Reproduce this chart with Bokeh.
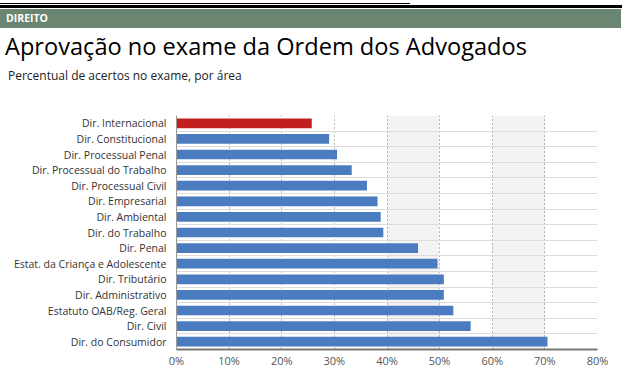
import numpy as np
from bokeh.plotting import figure
from bokeh.models import (Range1d, FixedTicker, BoxAnnotation, Div, ColumnDataSource,
                          CustomJSTickFormatter, PrintfTickFormatter)
from bokeh.layouts import column
from bokeh.embed import file_html
from bokeh.resources import INLINE

section = "DIREITO"
title = "Aprovação no exame da Ordem dos Advogados"
subtitle = "Percentual de acertos no exame, por área"

categories = [
    "Dir. Internacional", "Dir. Constitucional", "Dir. Processual Penal",
    "Dir. Processual do Trabalho", "Dir. Processual Civil", "Dir. Empresarial",
    "Dir. Ambiental", "Dir. do Trabalho", "Dir. Penal",
    "Estat. da Criança e Adolescente", "Dir. Tributário", "Dir. Administrativo",
    "Estatuto OAB/Reg. Geral", "Dir. Civil", "Dir. do Consumidor",
]
values = [25.7, 29.0, 30.5, 33.3, 36.2, 38.2, 38.8, 39.3, 45.9, 49.6, 50.8, 50.8, 52.6, 55.9, 70.5]
highlight = ["Dir. Internacional"]
x_ticks = [0, 10, 20, 30, 40, 50, 60, 70, 80]
shaded_bands = [(40, 50), (60, 70)]

BLUE = "#4a7cbf"
RED = "#c1201e"
FONT = "Open Sans"

n = len(categories)
pos = list(range(n))
colors = [RED if c in highlight else BLUE for c in categories]
src = ColumnDataSource(dict(pos=pos, val=values, color=colors, cat=categories))

header = Div(
    text=(
        '<div style="position:relative;width:625px;height:100px;overflow:hidden;">'
        '<div style="position:absolute;left:0;top:3px;width:410px;height:1px;background:#000;"></div>'
        '<div style="position:absolute;left:0;top:5px;width:622px;height:3px;background:#000;"></div>'
        '<div style="position:absolute;left:0;top:9px;width:621px;height:19px;background:#6a8570;"></div>'
        f'<div style="position:absolute;left:6px;top:10px;line-height:17px;font-family:\'{FONT}\';'
        f'font-weight:700;font-size:10.5px;color:#fff;">{section}</div>'
        f'<div style="position:absolute;left:5px;top:30px;line-height:32px;font-family:\'{FONT}\';'
        f'font-size:23.6px;color:#000;white-space:nowrap;">{title}</div>'
        f'<div style="position:absolute;left:8px;top:68px;line-height:16px;font-family:\'{FONT}\';'
        f'font-size:12px;color:#222;white-space:nowrap;">{subtitle}</div>'
        '</div>'
    ),
    width=625, height=100, margin=(0, 0, 0, 0),
)

p = figure(width=625, height=270, output_backend="svg", toolbar_location=None,
           x_range=Range1d(0, 80), y_range=Range1d(n - 0.5, -0.5),
           min_border_left=176, min_border_right=28, min_border_top=15, min_border_bottom=20)
p.outline_line_color = None
p.background_fill_color = "white"
p.border_fill_color = "white"

for a, b in shaded_bands:
    p.add_layout(BoxAnnotation(left=a, right=b, fill_color="#f3f3f3", fill_alpha=1,
                               line_alpha=0, level="image"))

p.hbar(y="pos", left=0, right="val", height=0.62, fill_color="color", line_color=None, source=src)

p.xaxis.ticker = FixedTicker(ticks=x_ticks)
p.xaxis.formatter = PrintfTickFormatter(format="%d%%")
p.xaxis.major_tick_line_color = None
p.xaxis.minor_tick_line_color = None
p.xaxis.major_tick_out = 0
p.xaxis.major_tick_in = 0
p.xaxis.minor_tick_out = 0
p.xaxis.axis_line_color = "#777"
p.xaxis.axis_line_width = 2
p.xaxis.major_label_text_font = FONT
p.xaxis.major_label_text_font_size = "11px"
p.xaxis.major_label_text_color = "#555"
p.xaxis.major_label_standoff = 3

p.yaxis.ticker = FixedTicker(ticks=pos)
p.yaxis.formatter = CustomJSTickFormatter(args=dict(labels=categories),
                                          code="return labels[Math.round(tick)] || '';")
p.yaxis.major_tick_line_color = None
p.yaxis.minor_tick_line_color = None
p.yaxis.major_tick_out = 0
p.yaxis.major_tick_in = 0
p.yaxis.minor_tick_out = 0
p.yaxis.axis_line_color = "#999"
p.yaxis.major_label_text_font = FONT
p.yaxis.major_label_text_font_size = "10.5px"
p.yaxis.major_label_text_color = "#333"
p.yaxis.major_label_standoff = 10

p.xgrid.ticker = FixedTicker(ticks=x_ticks[1:])
p.xgrid.grid_line_color = "#777"
p.xgrid.grid_line_dash = "1 3"
p.xgrid.grid_line_width = 1
p.ygrid.ticker = FixedTicker(ticks=[i + 0.5 for i in range(n - 1)])
p.ygrid.grid_line_color = "#dcdcdc"
p.ygrid.grid_line_width = 1

footer = Div(
    text='<div style="width:620px;height:2px;background:#000;margin-top:0;"></div>',
    width=625, height=7, margin=(0, 0, 0, 0),
)

layout = column(header, p, footer, spacing=0)
open("out.html", "w").write(file_html(layout, INLINE))
